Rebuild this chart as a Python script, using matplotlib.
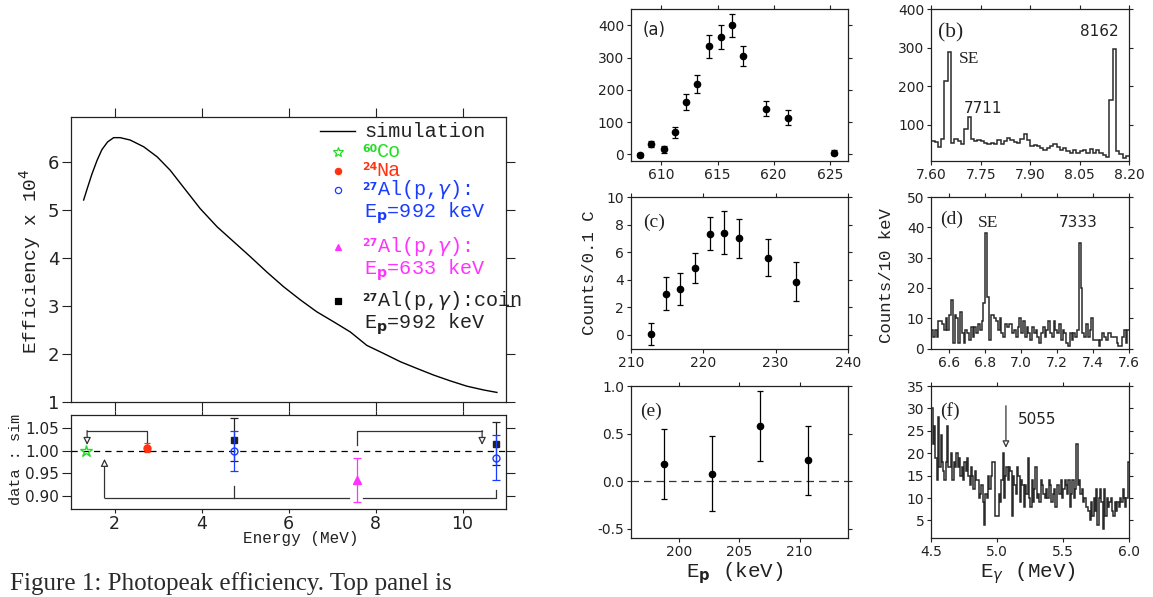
import numpy as np
import matplotlib.pyplot as plt
from matplotlib.ticker import FormatStrFormatter

plt.rcParams['font.family'] = 'DejaVu Sans'
plt.rcParams['mathtext.fontset'] = 'dejavusans'

MONO = 'Liberation Mono'
SERIF = 'Liberation Serif'
INK = '#222222'

# ─── left: simulated photopeak efficiency (x 1e4) ──────────────────────────
sim_energy = [1.29, 1.38, 1.48, 1.60, 1.71, 1.84, 1.98, 2.13, 2.36, 2.67, 2.98,
              3.28, 3.59, 3.97, 4.36, 4.74, 5.12, 5.50, 5.89, 6.27, 6.65, 7.04,
              7.42, 7.80, 8.19, 8.57, 8.95, 9.34, 9.72, 10.10, 10.49, 10.79]
sim_eff = [5.21, 5.47, 5.75, 6.04, 6.26, 6.42, 6.51, 6.51, 6.46, 6.32, 6.11,
           5.83, 5.47, 5.03, 4.65, 4.34, 4.03, 3.71, 3.40, 3.13, 2.88, 2.67,
           2.46, 2.18, 2.01, 1.84, 1.70, 1.56, 1.44, 1.33, 1.25, 1.20]

# ─── left: data / simulation ratios ────────────────────────────────────────
co60_e, co60_r = [1.34], [1.000]
na24_e, na24_r, na24_err = [2.75], [1.007], [0.010]
al992_e, al992_r, al992_err = [4.74, 10.76], [0.999, 0.985], [0.045, 0.050]
al633_e, al633_r, al633_err = [7.58], [0.935], [0.050]
coin_e, coin_r, coin_err = [4.74, 10.76], [1.025, 1.016], [0.048, 0.048]

# ─── (a) yield curve ───────────────────────────────────────────────────────
a_ep = [608.1, 609.1, 610.2, 611.2, 612.2, 613.2, 614.2, 615.3, 616.3, 617.3,
        619.3, 621.3, 625.4]
a_counts = [-2, 32, 15, 69, 163, 217, 335, 364, 401, 305, 142, 114, 5]
a_err = [6, 10, 10, 17, 25, 28, 36, 36, 36, 31, 24, 22, 8]

# ─── (b) spectrum, 10 keV bins from 7.60 MeV ───────────────────────────────
b_start, b_width = 7.60, 0.01
b_counts = [57, 55, 42, 62, 213, 289, 52, 63, 57, 50, 89, 120, 63, 57, 61, 57,
            52, 50, 52, 50, 61, 50, 57, 65, 61, 54, 52, 63, 76, 61, 43, 48, 45,
            39, 35, 39, 43, 50, 42, 35, 39, 32, 26, 33, 26, 30, 35, 26, 37, 26,
            33, 26, 22, 16, 163, 297, 30, 24, 13, 19]

# ─── (c) yield curve ───────────────────────────────────────────────────────
c_ep = [212.8, 214.8, 216.8, 218.9, 220.9, 222.9, 224.9, 228.9, 232.8]
c_counts = [0.07, 3.0, 3.32, 4.85, 7.34, 7.41, 7.0, 5.6, 3.85]
c_err = [0.8, 1.22, 1.17, 1.1, 1.22, 1.55, 1.4, 1.32, 1.4]

# ─── (d) spectrum, 10 keV bins from 6.50 MeV ───────────────────────────────
d_start, d_width = 6.50, 0.01
d_counts = [6, 4, 6, 4, 9, 9, 8, 6, 10, 6, 11, 16, 2, 11, 10, 2, 12, 5, 2, 6,
            5, 3, 7, 4, 7, 5, 8, 6, 9, 15, 38, 17, 3, 11, 11, 10, 9, 6, 10, 5,
            4, 8, 7, 8, 8, 5, 6, 4, 7, 10, 5, 9, 4, 7, 5, 3, 7, 5, 6, 4,
            2, 5, 7, 4, 6, 9, 5, 4, 9, 6, 5, 8, 3, 6, 5, 2, 1, 5, 3, 5,
            4, 6, 35, 20, 5, 4, 8, 4, 6, 10, 3, 3, 3, 1, 3, 5, 4, 3, 5, 5,
            4, 4, 4, 2, 1, 1, 4, 6, 2, 6]

# ─── (e) residual yield ────────────────────────────────────────────────────
e_ep = [198.7, 202.7, 206.7, 210.7]
e_val = [0.18, 0.08, 0.58, 0.22]
e_err = [0.37, 0.39, 0.37, 0.36]

# ─── (f) spectrum, 10 keV bins from 4.50 MeV ───────────────────────────────
f_start, f_width = 4.50, 0.01
f_counts = [30, 22, 26, 19, 14, 28, 17, 24, 18, 16,
            14, 18, 26, 17, 17, 20, 14, 18, 17, 20,
            17, 19, 15, 17, 14, 18, 16, 19, 15, 13,
            17, 15, 12, 16, 14, 14, 10, 11, 13, 9,
            4, 11, 10, 15, 12, 15, 18, 18, 6, 6,
            6, 11, 9, 14, 20, 10, 15, 17, 14, 17,
            16, 6, 15, 13, 11, 17, 15, 9, 14, 13,
            8, 13, 11, 19, 10, 8, 14, 9, 12, 17,
            10, 11, 9, 14, 13, 11, 10, 12, 10, 14,
            13, 9, 11, 12, 8, 13, 13, 11, 14, 10,
            12, 14, 13, 11, 14, 8, 11, 14, 10, 12,
            22, 13, 14, 11, 12, 9, 10, 8, 8, 7,
            5, 9, 6, 10, 7, 12, 4, 10, 12, 9,
            3, 12, 6, 10, 8, 9, 10, 7, 6, 9,
            7, 9, 8, 10, 9, 12, 10, 8, 10, 18]


def style(ax, length=3.0, size=10):
    ax.tick_params(direction='out', length=length, width=0.8, labelsize=size,
                   top=True, right=True, pad=2, colors=INK)
    for s in ax.spines.values():
        s.set_linewidth(0.9)
        s.set_color(INK)


def stairs(ax, counts, start, width):
    edges = start + width * np.arange(len(counts) + 1)
    ax.stairs(counts, edges, baseline=None, color='#2a2a2a', lw=1.1)


def iso_label(ax, x, y, mass, rest, color):
    # small bold mass number tucked against the symbol, typewriter face after
    ax.text(x, y + 0.029, mass, family='DejaVu Sans', fontweight='bold',
            fontsize=7.8, va='top', color=color, transform=ax.transAxes)
    ax.text(x + 0.033, y, rest, family=MONO, fontsize=14.5, va='center',
            color=color, transform=ax.transAxes)


fig = plt.figure(figsize=(11.53, 5.97), dpi=100)

# ─── left: efficiency ──────────────────────────────────────────────────────
ax = fig.add_axes([0.0616, 0.3266, 0.3773, 0.4774])
ax.plot(sim_energy, sim_eff, color='k', lw=1.0)
ax.set_xlim(1, 11)
ax.set_ylim(1, 6.94)
ax.set_xticks([2, 4, 6, 8, 10])
ax.set_yticks([1, 2, 3, 4, 5, 6])
style(ax, length=6.5, size=13)
ax.tick_params(labelbottom=False)

# legend key drawn by hand so markers sit on the first line of each entry
lx_m, lx_t = 0.614, 0.670
ax.plot([0.572, 0.653], [0.950, 0.950], color='k', lw=1.0, transform=ax.transAxes)
ax.text(lx_t + 0.003, 0.950, 'simulation', family=MONO, fontsize=14.5,
        va='center', transform=ax.transAxes, color=INK)
legend_rows = [
    ('*', '#22dd22', 'none', 0.878, '60', 'Co', None, 7),
    ('o', '#ff3311', '#ff3311', 0.812, '24', 'Na', None, 4.5),
    ('o', '#1a3cff', 'none', 0.744, '27', r'Al(p,$\gamma$):', 'E$_\\mathbf{p}$=992 keV', 4.5),
    ('^', '#ff33ff', '#ff33ff', 0.545, '27', r'Al(p,$\gamma$):', 'E$_\\mathbf{p}$=633 keV', 5),
    ('s', 'k', 'k', 0.355, '27', r'Al(p,$\gamma$):coin', 'E$_\\mathbf{p}$=992 keV', 4.5),
]
for mk, col, fc, my, mass, rest, second, ms in legend_rows:
    tcol = col if col != 'k' else INK
    ax.plot([lx_m], [my], marker=mk, color=col, mfc=fc, mec=col, ms=ms,
            mew=0.9, transform=ax.transAxes, clip_on=False)
    iso_label(ax, lx_t, my, mass, rest, tcol)
    if second:
        ax.text(lx_t + 0.003, my - 0.083, second, family=MONO, fontsize=14.5,
                va='center', color=tcol, transform=ax.transAxes)

fig.text(0.026, 0.563, r'Efficiency x 10$^4$', family=MONO, fontsize=14,
         rotation=90, ha='center', va='center', color=INK)

# ─── left: ratio ───────────────────────────────────────────────────────────
ar = fig.add_axes([0.0616, 0.1474, 0.3773, 0.1575])
ar.axhline(1.0, color='k', lw=0.9, ls=(0, (5, 4)))
ar.errorbar(coin_e, coin_r, yerr=coin_err, fmt='s', color='#222222', ms=5,
            capsize=3, elinewidth=0.9, capthick=0.9, zorder=3)
ar.errorbar(al992_e, al992_r, yerr=al992_err, fmt='o', color='#1a3cff', mfc='none',
            ms=5, capsize=3, elinewidth=0.9, capthick=0.9, zorder=4)
ar.errorbar(al633_e, al633_r, yerr=al633_err, fmt='^', color='#ff33ff', ms=6,
            capsize=3, elinewidth=0.9, capthick=0.9, zorder=4)
ar.errorbar(na24_e, na24_r, yerr=na24_err, fmt='o', color='#ff3311', ms=5,
            capsize=2, elinewidth=0.9, capthick=0.9, zorder=4)
ar.plot(co60_e, co60_r, marker='*', color='#22dd22', mfc='none', ms=9, mew=1.0,
        ls='none', zorder=4)
ar.set_xlim(1, 11)
ar.set_ylim(0.87, 1.08)
ar.set_xticks([2, 4, 6, 8, 10])
ar.set_yticks([0.90, 0.95, 1.00, 1.05])
ar.yaxis.set_major_formatter(FormatStrFormatter('%.2f'))
style(ar, length=6.5, size=11)
ar.tick_params(axis='x', which='both', bottom=True, length=3, labelsize=12.5, pad=1)

# brackets showing which points share a gamma cascade
lk = dict(color='#333333', lw=0.9)
ar.plot([2.75, 2.75, 1.37], [1.018, 1.045, 1.045], **lk)
ar.plot([7.58, 7.58, 10.45], [1.013, 1.045, 1.045], **lk)
ar.plot([4.74, 4.74], [0.922, 0.8945], **lk)
ar.plot([1.77, 7.40], [0.8945, 0.8945], **lk)
ar.plot([7.72, 10.76, 10.76], [0.8945, 0.8945, 0.913], **lk)
arw = dict(arrowstyle='-|>', color='#333333', lw=0.9, fc='white',
           mutation_scale=11, shrinkA=0, shrinkB=0)
ar.annotate('', xy=(1.37, 1.013), xytext=(1.37, 1.045), arrowprops=arw)
ar.annotate('', xy=(10.45, 1.013), xytext=(10.45, 1.045), arrowprops=arw)
ar.annotate('', xy=(1.77, 0.982), xytext=(1.77, 0.8945), arrowprops=arw)

fig.text(0.014, 0.23, 'data : sim', family=MONO, fontsize=11, rotation=90,
         ha='center', va='center', color=INK)
fig.text(0.261, 0.098, 'Energy (MeV)', family=MONO, fontsize=11.5,
         ha='center', va='center', color=INK)
fig.text(0.0087, 0.0117, 'Figure 1: Photopeak efficiency. Top panel is',
         family=SERIF, fontsize=18, color='#2a2a2a', va='baseline')

# ─── right-hand panels ─────────────────────────────────────────────────────
c1, w1 = 0.5473, 0.1880
c2, w2 = 0.8077, 0.1716
rows = [(0.7308, 0.2536), (0.4160, 0.2540), (0.0983, 0.2551)]

axa = fig.add_axes([c1, rows[0][0], w1, rows[0][1]])
axa.errorbar(a_ep, a_counts, yerr=a_err, fmt='o', color='k', ms=4.5,
             capsize=2.5, elinewidth=0.9, capthick=0.9)
axa.set_xlim(607.3, 626.6)
axa.set_ylim(-20, 450)
axa.set_xticks([610, 615, 620, 625])
axa.set_yticks([0, 100, 200, 300, 400])
style(axa)
axa.text(0.054, 0.863, '(a)', transform=axa.transAxes, family='DejaVu Sans',
         fontsize=12, va='center', color=INK)

axb = fig.add_axes([c2, rows[0][0], w2, rows[0][1]])
stairs(axb, b_counts, b_start, b_width)
axb.set_xlim(7.60, 8.20)
axb.set_ylim(6, 400)
axb.set_xticks([7.60, 7.75, 7.90, 8.05, 8.20])
axb.xaxis.set_major_formatter(FormatStrFormatter('%.2f'))
axb.set_yticks([100, 200, 300, 400])
style(axb)
axb.text(0.035, 0.843, '(b)', transform=axb.transAxes, family=SERIF,
         fontsize=15.5, va='center', color=INK)
axb.text(0.142, 0.669, 'SE', transform=axb.transAxes, family=SERIF,
         fontsize=12.5, va='center', color=INK)
axb.text(0.166, 0.348, '7711', transform=axb.transAxes, fontsize=11,
         va='center', color=INK)
axb.text(0.752, 0.856, '8162', transform=axb.transAxes, fontsize=11,
         va='center', color=INK)

axc = fig.add_axes([c1, rows[1][0], w1, rows[1][1]])
axc.errorbar(c_ep, c_counts, yerr=c_err, fmt='o', color='k', ms=4.5,
             capsize=2.5, elinewidth=0.9, capthick=0.9)
axc.set_xlim(210, 240)
axc.set_ylim(-1, 10)
axc.set_xticks([210, 220, 230, 240])
axc.set_yticks([0, 2, 4, 6, 8, 10])
style(axc)
axc.text(0.055, 0.83, '(c)', transform=axc.transAxes, family=SERIF,
         fontsize=14, va='center', color=INK)
fig.text(0.511, 0.543, 'Counts/0.1 C', family=MONO, fontsize=12.5, rotation=90,
         ha='center', va='center', color=INK)

axd = fig.add_axes([c2, rows[1][0], w2, rows[1][1]])
stairs(axd, d_counts, d_start, d_width)
axd.set_xlim(6.5, 7.6)
axd.set_ylim(0, 50)
axd.set_xticks([6.6, 6.8, 7.0, 7.2, 7.4, 7.6])
axd.xaxis.set_major_formatter(FormatStrFormatter('%.1f'))
axd.set_yticks([0, 10, 20, 30, 40, 50])
style(axd)
axd.text(0.046, 0.85, '(d)', transform=axd.transAxes, family=SERIF,
         fontsize=14, va='center', color=INK)
axd.text(0.237, 0.831, 'SE', transform=axd.transAxes, family=SERIF,
         fontsize=12.5, va='center', color=INK)
axd.text(0.645, 0.83, '7333', transform=axd.transAxes, fontsize=11,
         va='center', color=INK)
fig.text(0.769, 0.539, 'Counts/10 keV', family=MONO, fontsize=12.5, rotation=90,
         ha='center', va='center', color=INK)

axe = fig.add_axes([c1, rows[2][0], w1, rows[2][1]])
axe.axhline(0, color='#333333', lw=0.9, ls=(0, (6, 4)))
axe.errorbar(e_ep, e_val, yerr=e_err, fmt='o', color='k', ms=4.5,
             capsize=2.5, elinewidth=0.9, capthick=0.9)
axe.set_xlim(196, 214)
axe.set_ylim(-0.6, 1.0)
axe.set_xticks([200, 205, 210])
axe.set_yticks([-0.5, 0.0, 0.5, 1.0])
axe.yaxis.set_major_formatter(FormatStrFormatter('%.1f'))
style(axe)
axe.text(0.042, 0.836, '(e)', transform=axe.transAxes, family=SERIF,
         fontsize=14, va='center', color=INK)
fig.text(0.6375, 0.04, r'E$_\mathbf{p}$ (keV)', family=MONO, fontsize=15,
         ha='center', va='center', color=INK)

axf = fig.add_axes([c2, rows[2][0], w2, rows[2][1]])
stairs(axf, f_counts, f_start, f_width)
axf.set_xlim(4.5, 6.0)
axf.set_ylim(1, 35)
axf.set_xticks([4.5, 5.0, 5.5, 6.0])
axf.xaxis.set_major_formatter(FormatStrFormatter('%.1f'))
axf.set_yticks([5, 10, 15, 20, 25, 30, 35])
style(axf)
axf.text(0.047, 0.839, '(f)', transform=axf.transAxes, family=SERIF,
         fontsize=14, va='center', color=INK)
axf.text(0.437, 0.779, '5055', transform=axf.transAxes, fontsize=11,
         va='center', color=INK)
axf.annotate('', xy=(5.066, 21.2), xytext=(5.066, 30.6),
             arrowprops=dict(arrowstyle='-|>', color='#333333', lw=0.9,
                             fc='white', mutation_scale=10, shrinkA=0, shrinkB=0))
fig.text(0.8915, 0.04, r'E$_\gamma$ (MeV)', family=MONO, fontsize=15,
         ha='center', va='center', color=INK)

fig.savefig('out.png', dpi=100)
